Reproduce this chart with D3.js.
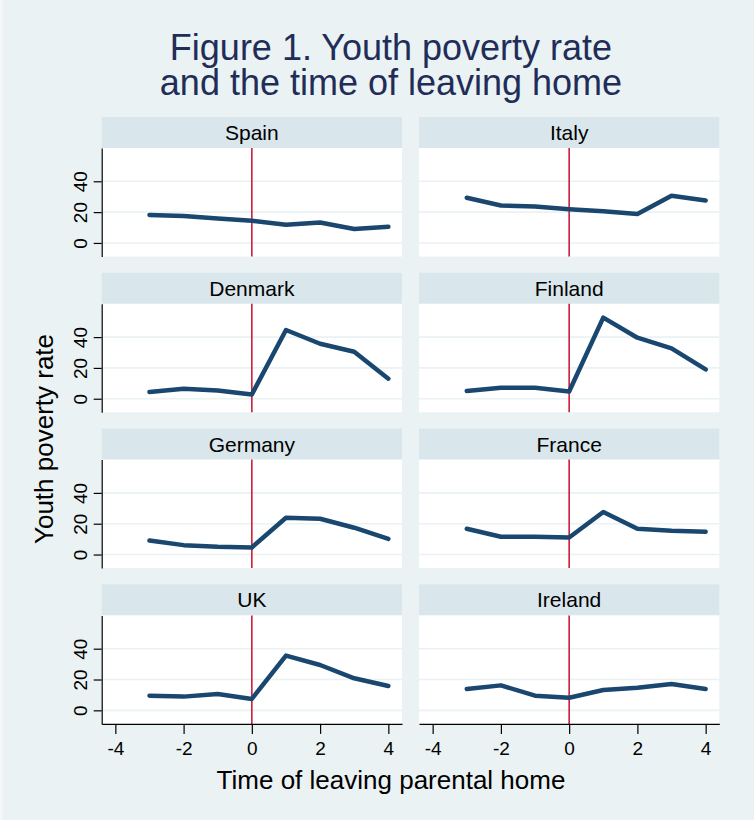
<!DOCTYPE html>
<html>
<head>
<meta charset="UTF-8">
<title>Youth poverty rate and the time of leaving home</title>
<script src="https://d3js.org/d3.v7.min.js"></script>
<style>
  body { margin: 0; background: #eaf2f3; }
  svg { display: block; font-family: "Liberation Sans", Arial, sans-serif; }
</style>
</head>
<body>
<svg width="754" height="820"></svg>
<script>

  // DATA

  var countries = ["Spain", "Italy", "Denmark", "Finland", "Germany", "France", "UK", "Ireland"];
  var years = [-3, -2, -1, 0, 1, 2, 3, 4];

  var spain   = [18.2, 17.5, 15.9, 14.4, 11.8, 13.3, 9.0, 10.5];
  var italy   = [29.3, 24.3, 23.6, 21.9, 20.5, 18.8, 30.6, 27.5];
  var denmark = [4.3, 6.5, 5.4, 2.8, 44.6, 35.7, 30.5, 13.0];
  var finland = [5.0, 7.2, 7.2, 4.7, 52.6, 39.6, 32.7, 19.0];
  var germany = [9.1, 6.1, 5.0, 4.6, 23.9, 23.2, 17.4, 10.2];
  var france  = [16.7, 11.5, 11.5, 11.1, 27.6, 16.7, 15.4, 14.8];
  var uk      = [9.5, 8.9, 10.6, 7.4, 35.5, 29.4, 20.8, 15.8];
  var ireland = [13.9, 16.2, 9.5, 8.2, 13.2, 14.7, 17.1, 13.9];

  var series = [spain, italy, denmark, finland, germany, france, uk, ireland];

  var xTicks = [-4, -2, 0, 2, 4];
  var yTicks = [0, 20, 40];

  // SETUP

  var svg = d3.select("svg");

  svg.append("rect")
    .attr("x", 0).attr("y", 0)
    .attr("width", 754).attr("height", 820)
    .attr("fill", "#eaf2f3");
  svg.append("rect")
    .attr("x", 0).attr("y", 0)
    .attr("width", 2.5).attr("height", 820)
    .attr("fill", "#f3f7f8");

  var colX = [101.7, 419],
    panelW = 300.3,
    rowTop = 117,
    rowStep = 155.8,
    stripH = 31,
    plotH = 108.5;

  var x = d3.scaleLinear().domain([-4.4, 4.4]).range([0, panelW]);
  var y = d3.scaleLinear().domain([-8.8, 61.6]).range([plotH, 0]);

  var line = d3.line()
    .x(function (d, i) { return x(years[i]); })
    .y(function (d) { return y(d); });

  // PANELS

  countries.forEach(function (name, k) {
    var col = k % 2,
      row = Math.floor(k / 2),
      top = rowTop + row * rowStep;

    var strip = svg.append("g")
      .attr("transform", "translate(" + colX[col] + "," + top + ")");
    strip.append("rect")
      .attr("width", panelW).attr("height", stripH)
      .attr("fill", "#d9e6eb");
    strip.append("text")
      .attr("x", panelW / 2).attr("y", stripH / 2 + 7.5)
      .attr("text-anchor", "middle")
      .attr("font-size", 21)
      .attr("fill", "#000")
      .text(name);

    var g = svg.append("g")
      .attr("transform", "translate(" + colX[col] + "," + (top + stripH) + ")");

    g.append("rect")
      .attr("width", panelW).attr("height", plotH)
      .attr("fill", "#fff");

    // gridlines
    g.selectAll(".grid")
      .data(yTicks)
      .enter().append("line")
      .attr("class", "grid")
      .attr("x1", 0).attr("x2", panelW)
      .attr("y1", function (d) { return y(d); })
      .attr("y2", function (d) { return y(d); })
      .attr("stroke", "#eaf2f3")
      .attr("stroke-width", 1.6);

    // red reference line at 0
    g.append("line")
      .attr("x1", x(0)).attr("x2", x(0))
      .attr("y1", 0).attr("y2", plotH)
      .attr("stroke", "#c8102e")
      .attr("stroke-width", 1.5);

    g.append("path")
      .datum(series[k])
      .attr("d", line)
      .attr("fill", "none")
      .attr("stroke", "#1a476f")
      .attr("stroke-width", 4.5)
      .attr("stroke-linejoin", "round")
      .attr("stroke-linecap", "round");

    // y axis on left column
    if (col === 0) {
      var ya = g.append("g")
        .call(d3.axisLeft(y).tickValues(yTicks).tickSize(8).tickSizeOuter(0));
      ya.select(".domain").attr("stroke", "#000").attr("stroke-width", 1.2);
      ya.selectAll(".tick line").attr("stroke", "#000").attr("stroke-width", 1.2);
      ya.selectAll(".tick text")
        .attr("x", null).attr("dy", null)
        .attr("text-anchor", "middle")
        .attr("font-size", 19)
        .attr("fill", "#000")
        .attr("font-family", "Liberation Sans, Arial, sans-serif")
        .attr("transform", "translate(-15.2,0) rotate(-90)");
    }

    // x axis on bottom row
    if (row === 3) {
      var xa = g.append("g")
        .attr("transform", "translate(0," + plotH + ")")
        .call(d3.axisBottom(x).tickValues(xTicks).tickSize(10).tickSizeOuter(0).tickPadding(7.5));
      xa.select(".domain").attr("stroke", "#000").attr("stroke-width", 1.2);
      xa.selectAll(".tick line").attr("stroke", "#000").attr("stroke-width", 1.2);
      xa.selectAll(".tick text")
        .attr("font-size", 19)
        .attr("fill", "#000")
        .attr("font-family", "Liberation Sans, Arial, sans-serif")
        .text(function (d) { return d < 0 ? "-" + Math.abs(d) : d; });
    }
  });

  // TITLES

  var title = svg.append("text")
    .attr("text-anchor", "middle")
    .attr("font-size", 36)
    .attr("fill", "#1f2d58");
  title.append("tspan").attr("x", 391).attr("y", 60).text("Figure 1. Youth poverty rate");
  title.append("tspan").attr("x", 391).attr("y", 95).text("and the time of leaving home");

  svg.append("text")
    .attr("x", 391).attr("y", 789)
    .attr("text-anchor", "middle")
    .attr("font-size", 26)
    .attr("fill", "#000")
    .text("Time of leaving parental home");

  svg.append("text")
    .attr("transform", "translate(53,439) rotate(-90)")
    .attr("text-anchor", "middle")
    .attr("font-size", 26)
    .attr("fill", "#000")
    .text("Youth poverty rate");

</script>
</body>
</html>
